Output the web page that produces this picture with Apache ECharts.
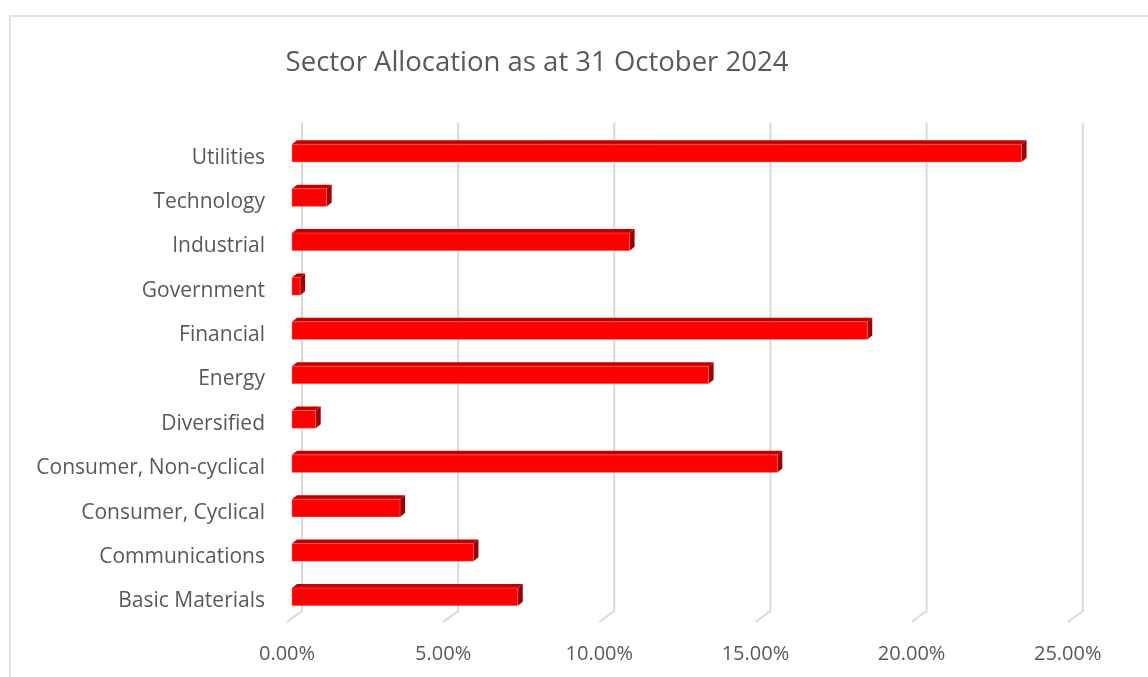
<!DOCTYPE html>
<html>
<head>
<meta charset="utf-8">
<script src="https://cdn.jsdelivr.net/npm/echarts@6/dist/echarts.min.js"></script>
<style>
html,body{margin:0;padding:0;background:#fff;}
#chart{width:1148px;height:677px;}
</style>
</head>
<body>
<div id="chart"></div>
<script>
var categories = ['Basic Materials','Communications','Consumer, Cyclical','Consumer, Non-cyclical','Diversified','Energy','Financial','Government','Industrial','Technology','Utilities'];
var values = [7.23, 5.81, 3.46, 15.54, 0.76, 13.34, 18.42, 0.26, 10.81, 1.11, 23.36];
var xTicks = [0, 5, 10, 15, 20, 25];
var titleText = 'Sector Allocation as at 31 October 2024';

var FONT = 'Open Sans';
var chart = echarts.init(document.getElementById('chart'), null, {renderer: 'canvas'});

var BAR_DX = 5, BAR_DY = -4;
var BACK_DX = 10, BACK_DY = -8;
var FRONT_DX = -5, FRONT_DY = 3;

var option = {
  backgroundColor: '#ffffff',
  animation: false,
  title: {
    text: titleText,
    left: 532,
    top: 44,
    textAlign: 'center',
    textStyle: {fontFamily: FONT, fontSize: 27.5, fontWeight: 'normal', color: '#595959'}
  },
  graphic: [{
    type: 'rect',
    shape: {x: 10, y: 16, width: 1300, height: 900},
    style: {fill: 'none', stroke: '#d9d9d9', lineWidth: 1.5},
    silent: true,
    z: -10
  }],
  grid: {left: 292, right: 75.25, top: 131, bottom: 58, containLabel: false},
  xAxis: {
    type: 'value', min: 0, max: 25, interval: 5,
    axisLine: {show: false}, axisTick: {show: false}, splitLine: {show: false},
    axisLabel: {
      fontFamily: FONT, fontSize: 20, color: '#595959', margin: 25,
      padding: [0, 10, 0, 0],
      formatter: function (v) { return v.toFixed(2) + '%'; }
    }
  },
  yAxis: {
    type: 'category', data: categories,
    axisLine: {show: false}, axisTick: {show: false}, splitLine: {show: false},
    axisLabel: {
      margin: 27,
      formatter: function (v) { return '{a|' + v + '}'; },
      rich: {a: {fontFamily: FONT, fontSize: 21, color: '#595959', padding: [9, 0, 0, 0]}}
    }
  },
  series: [
    {
      type: 'custom',
      name: 'grid3d',
      silent: true,
      z: 1,
      data: xTicks.map(function (t) { return [t]; }),
      encode: {x: 0},
      renderItem: function (params, api) {
        var cs = params.coordSys;
        var p = api.coord([api.value(0), 0]);
        var x = p[0];
        var top = cs.y, bot = cs.y + cs.height;
        return {
          type: 'polyline',
          shape: {points: [[x + BACK_DX, top + BACK_DY], [x + BACK_DX, bot + BACK_DY], [x + FRONT_DX, bot + FRONT_DY]]},
          style: {stroke: '#d9d9d9', lineWidth: 2, fill: 'none'}
        };
      }
    },
    {
      type: 'custom',
      name: 'Allocation',
      z: 5,
      data: values.map(function (v, i) { return [v, i]; }),
      encode: {x: 0, y: 1},
      renderItem: function (params, api) {
        var v = api.value(0), i = api.value(1);
        var p0 = api.coord([0, i]);
        var p1 = api.coord([v, i]);
        var h = api.size([0, 1])[1] * 0.4;
        var x0 = p0[0], x1 = p1[0];
        var yT = p0[1] - h / 2, yB = p0[1] + h / 2;
        return {
          type: 'group',
          children: [
            {type: 'polygon', shape: {points: [[x0, yT], [x1, yT], [x1 + BAR_DX, yT + BAR_DY], [x0 + BAR_DX, yT + BAR_DY]]},
             style: {fill: '#c00000'}},
            {type: 'polygon', shape: {points: [[x1, yT], [x1 + BAR_DX, yT + BAR_DY], [x1 + BAR_DX, yB + BAR_DY], [x1, yB]]},
             style: {fill: '#a00000'}},
            {type: 'rect', shape: {x: x0, y: yT, width: x1 - x0, height: h},
             style: {fill: '#ff0000', stroke: 'rgba(255,140,140,0.7)', lineWidth: 0.6}}
          ]
        };
      }
    }
  ]
};
chart.setOption(option);
</script>
</body>
</html>
